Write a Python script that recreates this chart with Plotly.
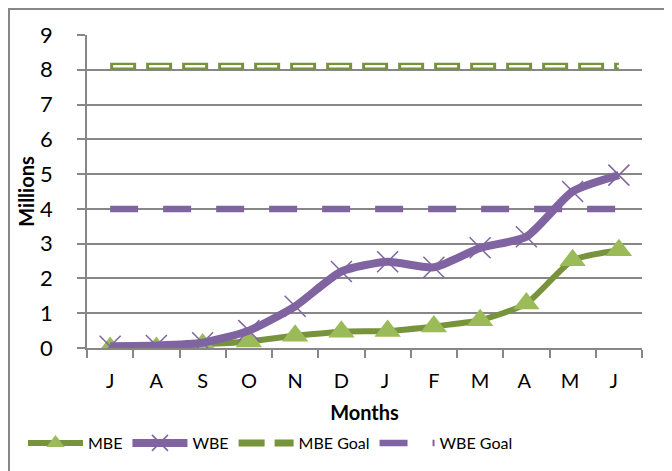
import plotly.graph_objects as go

months = ["J", "A", "S", "O", "N", "D", "J ", "F", "M", "A ", "M ", "J  "]
mbe = [0.0, 0.0, 0.1, 0.19, 0.35, 0.47, 0.49, 0.62, 0.8, 1.28, 2.52, 2.81]
wbe = [0.05, 0.07, 0.15, 0.5, 1.2, 2.2, 2.48, 2.32, 2.88, 3.2, 4.5, 4.97]
mbe_goal = [8.1] * 12
wbe_goal = [4.0] * 12

GREEN = "#77933C"
GREEN_LIGHT = "#9BBB59"
PURPLE = "#8064A2"
GRID = "#878787"
FONT = "Lato"

# the page body adds an 8px margin, so the figure is sized/placed to compensate
W, H = 664, 463
L, T, R, B = 79, 27, 30, 122
PW, PH = W - L - R, H - T - B

fig = go.Figure()

fig.add_trace(
    go.Scatter(
        x=months,
        y=mbe,
        mode="lines+markers",
        name="MBE",
        line={"color": GREEN, "width": 6, "shape": "spline", "smoothing": 0.6},
        marker={"symbol": "triangle-up", "size": 23, "color": GREEN_LIGHT},
    )
)
fig.add_trace(
    go.Scatter(
        x=months,
        y=wbe,
        mode="lines+markers",
        name="WBE",
        line={"color": PURPLE, "width": 8, "shape": "spline", "smoothing": 0.6},
        marker={"symbol": "x-thin", "size": 21, "line": {"color": PURPLE, "width": 1.5}},
    )
)
fig.add_trace(
    go.Scatter(
        x=months,
        y=mbe_goal,
        mode="lines",
        name="MBE Goal",
        line={"color": GREEN, "width": 7, "dash": "26px,10px"},
    )
)
# white core to make the MBE goal dashes look hollow
fig.add_trace(
    go.Scatter(
        x=months,
        y=mbe_goal,
        mode="lines",
        showlegend=False,
        hoverinfo="skip",
        line={"color": "white", "width": 2.5, "dash": "0px,3px,20px,13px"},
    )
)
fig.add_trace(
    go.Scatter(
        x=months,
        y=wbe_goal,
        mode="lines",
        name="WBE Goal",
        line={"color": PURPLE, "width": 6.5, "dash": "28px,25px"},
    )
)

# outer chart border
fig.add_shape(
    type="rect",
    xref="paper",
    yref="paper",
    x0=(1 - L) / PW,
    x1=1.2,
    y0=(PH + T - 1) / PH,
    y1=-0.6,
    line={"color": GRID, "width": 2},
    layer="below",
)

fig.update_layout(
    width=W,
    height=H,
    margin={"l": L, "r": R, "t": T, "b": B},
    paper_bgcolor="white",
    plot_bgcolor="white",
    font={"family": FONT, "color": "black"},
    showlegend=True,
    legend={
        "orientation": "h",
        "x": (15 - L) / PW,
        "xanchor": "left",
        "y": -94 / PH,
        "yanchor": "middle",
        "font": {"size": 16, "family": FONT},
        "traceorder": "normal",
        "itemwidth": 55,
    },
    xaxis={
        "type": "category",
        "showgrid": False,
        "showline": True,
        "linecolor": GRID,
        "linewidth": 1.5,
        "ticks": "outside",
        "tickson": "boundaries",
        "ticklen": 8,
        "tickcolor": GRID,
        "tickwidth": 1.5,
        "tickfont": {"size": 20},
        "ticklabelstandoff": 14,
        "title": {"text": "<b>Months</b>", "font": {"size": 20}, "standoff": 15},
        "range": [-0.5, 11.5],
        "fixedrange": True,
    },
    yaxis={
        "range": [0, 9],
        "dtick": 1,
        "showgrid": True,
        "gridcolor": GRID,
        "gridwidth": 1.5,
        "showline": True,
        "linecolor": GRID,
        "linewidth": 1.5,
        "ticks": "outside",
        "ticklen": 8,
        "tickcolor": GRID,
        "tickwidth": 1.5,
        "tickfont": {"size": 22},
        "ticklabelstandoff": 20,
        "zeroline": False,
        "title": {"text": "<b>Millions</b>", "font": {"size": 20}, "standoff": 0},
    },
)

fig.write_html("out.html")
